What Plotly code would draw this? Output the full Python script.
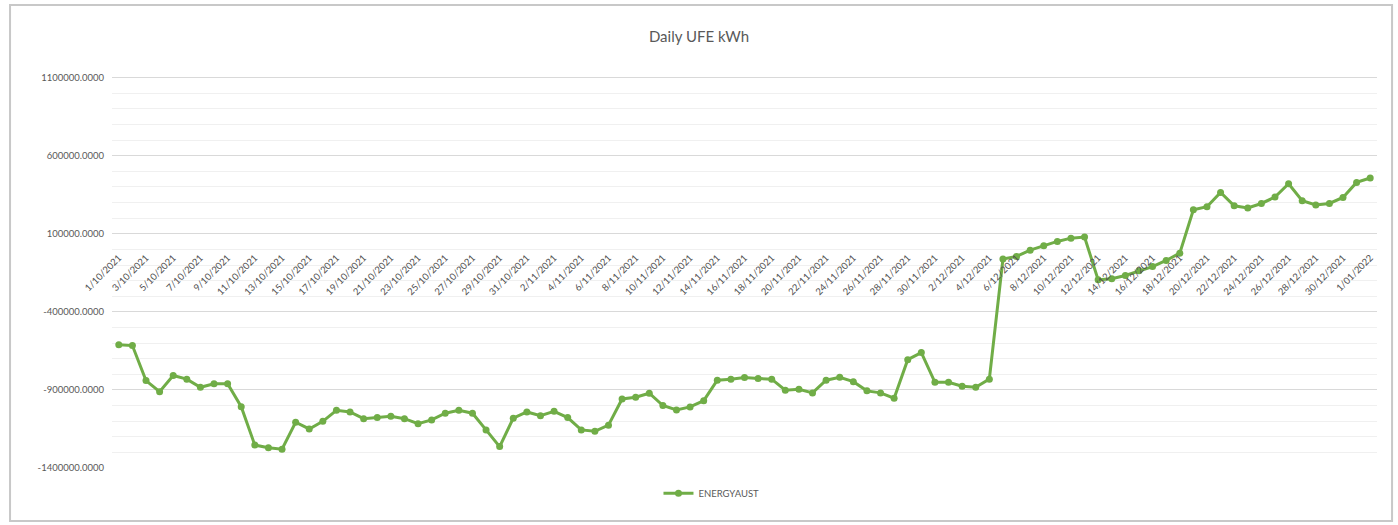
import plotly.graph_objects as go
import pandas as pd

# daily dates 1/10/2021 .. 1/01/2022 (Excel-style d/mm/yyyy labels)
dates = pd.date_range("2021-10-01", "2022-01-01", freq="D")
day_labels = [f"{d.day}/{d.month:02d}/{d.year}" for d in dates]

# values (kWh)
energyaust = [
    -611000, -616000, -840000, -911000, -808000, -831000, -883000, -860000, -860000, -1007000,
    -1253000, -1270000, -1280000, -1107000, -1150000, -1101000, -1030000, -1041000, -1084000, -1077000,
    -1069000, -1084000, -1116000, -1092000, -1049000, -1030000, -1049000, -1156000, -1263000, -1081000,
    -1041000, -1065000, -1037000, -1077000, -1156000, -1165000, -1126000, -958000, -947000, -921000,
    -1000000, -1028000, -1009000, -969000, -838000, -831000, -821000, -827000, -831000, -902000,
    -896000, -919000, -838000, -819000, -847000, -906000, -919000, -953000, -706000, -661000,
    -851000, -851000, -876000, -883000, -831000, -62000, -45000, -5000, 23000, 51000,
    72000, 79000, -195000, -188000, -167000, -137000, -110000, -71000, -24000, 254000,
    273000, 365000, 279000, 265000, 294000, 335000, 420000, 312000, 284000, 294000,
    333000, 429000, 457000,
]

y_tickvals = [-1400000, -900000, -400000, 100000, 600000, 1100000]
y_ticktext = ["-1400000.0000", "-900000.0000", "-400000.0000",
              "100000.0000", "600000.0000", "1100000.0000"]
y_range = [-1400000, 1200000]

GREEN = "#70ad47"
TXT = "#595959"
FONT = "Lato"

fig = go.Figure()

fig.add_trace(go.Scatter(
    x=day_labels,
    y=energyaust,
    mode="lines+markers",
    name="ENERGYAUST",
    line=dict(color=GREEN, width=3),
    marker=dict(color=GREEN, size=7),
))

# horizontal axis crosses at 0, like Excel does
zero_pos = (0 - y_range[0]) / (y_range[1] - y_range[0])

fig.update_layout(
    width=1398, height=525,
    margin=dict(l=112, r=21, t=62, b=57),
    paper_bgcolor="white",
    plot_bgcolor="white",
    font=dict(family=FONT, color=TXT),
    title=dict(text="Daily UFE kWh", x=0.5, xanchor="center", y=0.93, yanchor="middle",
               font=dict(size=15, color=TXT, family=FONT)),
    xaxis=dict(
        type="category",
        tickmode="array",
        tickvals=day_labels[::2],
        ticktext=day_labels[::2],
        tickangle=-45,
        tickfont=dict(size=9.5, color="#505050"),
        showgrid=False,
        showline=False,
        zeroline=False,
        ticks="",
        anchor="free",
        position=zero_pos,
        range=[-0.5, len(day_labels) - 0.5],
    ),
    yaxis=dict(
        range=y_range,
        tickmode="array",
        tickvals=y_tickvals,
        ticktext=y_ticktext,
        tickfont=dict(size=9.5, color=TXT),
        ticklabelstandoff=7,
        showgrid=True,
        gridcolor="#d9d9d9",
        gridwidth=1,
        zeroline=False,
        showline=False,
        ticks="",
        minor=dict(tick0=-1400000, dtick=100000, showgrid=True, gridcolor="#f0f0f0", gridwidth=1),
    ),
    legend=dict(
        orientation="h",
        x=0.432, xanchor="left",
        y=-0.062, yanchor="middle",
        font=dict(size=9.5, color=TXT),
        itemwidth=30,
    ),
    showlegend=True,
)

# chart frame (shadowed border around the Excel chart area)
fig.add_shape(type="rect", xref="paper", yref="paper",
              x0=-0.0806, x1=1.0119, y0=-0.1305, y1=1.1404,
              line=dict(color="#c8c8c8", width=2), layer="below")

# page body has an 8px default margin; drop it so the figure sits at 0,0
fig.write_html("out.html", config={"displayModeBar": False},
               post_script="document.body.style.margin='0';")
